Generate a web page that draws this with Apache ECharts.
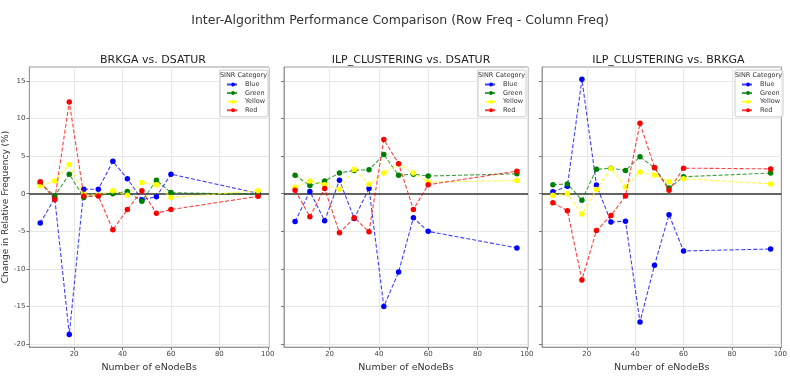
<!DOCTYPE html>
<html>
<head>
<meta charset="utf-8">
<script src="https://cdn.jsdelivr.net/npm/echarts@6/dist/echarts.min.js"></script>
<style>
  html, body { margin: 0; padding: 0; background: #fff; }
  #main { width: 790px; height: 378px; }
</style>
</head>
<body>
<div id="main"></div>
<script>
const eNodeBs = [6, 12, 18, 24, 30, 36, 42, 48, 54, 60, 96];
const panelTitles = ['BRKGA vs. DSATUR', 'ILP_CLUSTERING vs. DSATUR', 'ILP_CLUSTERING vs. BRKGA'];
const categories = ['Blue', 'Green', 'Yellow', 'Red'];
const xTicks = [20, 40, 60, 80, 100];
const yTicks = [-20, -15, -10, -5, 0, 5, 10, 15];

// BRKGA vs. DSATUR
const brkgaDsaturBlue = [-3.9, -0.6, -18.7, 0.6, 0.6, 4.3, 2.0, -0.8, -0.4, 2.6, 0.05];
const brkgaDsaturGreen = [1.4, -0.3, 2.6, -0.5, -0.2, 0.0, 0.3, -1.0, 1.8, 0.15, -0.1];
const brkgaDsaturYellow = [1.05, 1.7, 3.9, -0.1, -0.2, 0.4, -0.2, 1.5, 1.2, -0.5, 0.4];
const brkgaDsaturRed = [1.6, -0.8, 12.2, -0.3, -0.3, -4.8, -2.1, 0.4, -2.6, -2.1, -0.35];

// ILP_CLUSTERING vs. DSATUR
const ilpDsaturBlue = [-3.7, 0.3, -3.6, 1.8, -3.3, 0.7, -15.0, -10.4, -3.2, -5.0, -7.2];
const ilpDsaturGreen = [2.45, 1.1, 1.7, 2.75, 3.1, 3.2, 5.2, 2.45, 2.6, 2.35, 2.65];
const ilpDsaturYellow = [0.85, 1.7, 1.2, 0.6, 3.25, 1.25, 2.75, 3.95, 2.75, 1.55, 1.75];
const ilpDsaturRed = [0.45, -3.05, 0.7, -5.2, -3.2, -5.05, 7.2, 4.0, -2.1, 1.2, 3.0];

// ILP_CLUSTERING vs. BRKGA
const ilpBrkgaBlue = [0.25, 1.0, 15.2, 1.15, -3.75, -3.65, -17.05, -9.5, -2.8, -7.6, -7.35];
const ilpBrkgaGreen = [1.2, 1.3, -0.85, 3.25, 3.4, 3.1, 4.9, 3.45, 0.75, 2.25, 2.75];
const ilpBrkgaYellow = [-0.2, 0.0, -2.7, 0.55, 3.35, 0.9, 2.9, 2.5, 1.6, 2.0, 1.3];
const ilpBrkgaRed = [-1.2, -2.25, -11.45, -4.9, -2.9, -0.3, 9.35, 3.5, 0.45, 3.4, 3.3];

const panelData = [
  [brkgaDsaturBlue, brkgaDsaturGreen, brkgaDsaturYellow, brkgaDsaturRed],
  [ilpDsaturBlue, ilpDsaturGreen, ilpDsaturYellow, ilpDsaturRed],
  [ilpBrkgaBlue, ilpBrkgaGreen, ilpBrkgaYellow, ilpBrkgaRed]
];
const colors = ['#0000ff', '#008000', '#ffff00', '#ff0000'];

const font = 'DejaVu Sans';
const grids = [
  { left: 27, width: 242 },
  { left: 284, width: 244 },
  { left: 542, width: 243 }
];
const legendLeft = [220, 478, 735];

const myChart = echarts.init(document.getElementById('main'));

let titles = [{
  text: 'Inter-Algorithm Performance Comparison (Row Freq - Column Freq)',
  left: 395,
  top: 9,
  textAlign: 'center',
  textStyle: { fontFamily: font, fontSize: 12.5, fontWeight: 'normal', color: '#333' }
}];
let legends = [];
let xAxes = [];
let yAxes = [];
let series = [];

grids.forEach((g, i) => {
  titles.push({
    text: panelTitles[i],
    left: g.left + g.width / 2,
    top: 50,
    textAlign: 'center',
    textStyle: { fontFamily: font, fontSize: 11, fontWeight: 'normal', color: '#222' }
  });
  titles.push({
    text: 'SINR Category',
    left: legendLeft[i] + 23.5,
    top: 72,
    padding: 0,
    textAlign: 'center',
    textStyle: { fontFamily: font, fontSize: 6.5, fontWeight: 'normal', color: '#333' }
  });
  legends.push({
    orient: 'vertical',
    left: legendLeft[i],
    top: 70,
    padding: [11, 3, 3, 6],
    itemWidth: 12,
    itemHeight: 5,
    itemGap: 1.6,
    backgroundColor: 'rgba(255,255,255,0.85)',
    borderColor: '#ccc',
    borderWidth: 1,
    borderRadius: 2,
    data: categories,
    textStyle: { fontFamily: font, fontSize: 6.5, color: '#333', padding: [0, 0, 0, 1] }
  });
  xAxes.push({
    type: 'value',
    gridIndex: i,
    min: 1.5,
    max: 100.5,
    name: 'Number of eNodeBs',
    nameLocation: 'middle',
    nameGap: 15,
    nameTextStyle: { fontFamily: font, fontSize: 9.5, color: '#333' },
    axisLine: { show: true, onZero: false, lineStyle: { color: '#999' } },
    axisTick: { show: true, length: 3, customValues: xTicks, lineStyle: { color: '#777' } },
    axisLabel: { customValues: xTicks, fontFamily: font, fontSize: 7, color: '#444', margin: 4 },
    splitLine: { show: true, lineStyle: { color: '#e8e8e8' } }
  });
  yAxes.push({
    type: 'value',
    gridIndex: i,
    min: -20.38,
    max: 16.84,
    name: i === 0 ? 'Change in Relative Frequency (%)' : '',
    nameLocation: 'middle',
    nameRotate: 90,
    nameGap: 15,
    nameTextStyle: { fontFamily: font, fontSize: 9, color: '#333' },
    axisLine: { show: true, lineStyle: { color: '#999' } },
    axisTick: { show: true, length: 3, customValues: yTicks, lineStyle: { color: '#777' } },
    axisLabel: { show: i === 0, customValues: yTicks, fontFamily: font, fontSize: 7, color: '#444', margin: 4 },
    splitLine: { show: true, lineStyle: { color: '#e8e8e8' } }
  });
  categories.forEach((c, k) => {
    let s = {
      name: c,
      type: 'line',
      xAxisIndex: i,
      yAxisIndex: i,
      data: eNodeBs.map((x, j) => [x, panelData[i][k][j]]),
      symbol: 'circle',
      symbolSize: 5.5,
      itemStyle: { color: colors[k] },
      lineStyle: { color: colors[k], width: 1.1, type: [4, 2], opacity: 0.75 },
      z: 3 + k
    };
    if (k === 0) {
      s.markLine = {
        silent: true,
        symbol: 'none',
        label: { show: false },
        lineStyle: { color: '#333', width: 1.6, type: 'solid' },
        data: [{ yAxis: 0 }],
        z: 2
      };
    }
    series.push(s);
  });
});

myChart.setOption({
  animation: false,
  title: titles,
  legend: legends,
  grid: grids.map(g => ({
    left: g.left,
    width: g.width,
    top: 67,
    height: 292,
    show: true,
    borderColor: '#999',
    borderWidth: 1
  })),
  xAxis: xAxes,
  yAxis: yAxes,
  series: series
});
</script>
</body>
</html>
